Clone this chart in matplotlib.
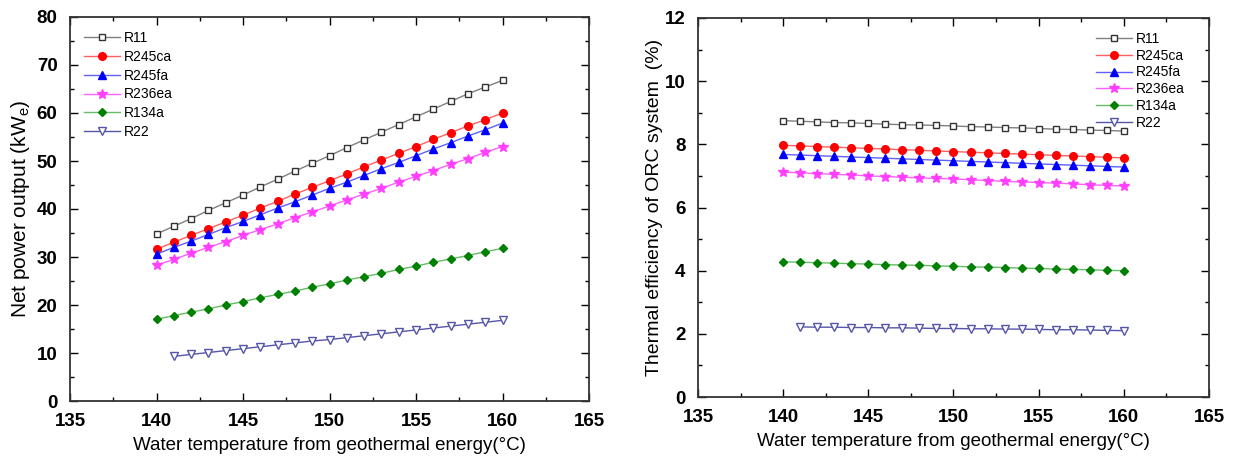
import matplotlib.pyplot as plt
from matplotlib.ticker import MultipleLocator

plt.rcParams['font.family'] = ['Liberation Sans', 'DejaVu Sans']

temps = list(range(140, 161))
temps_r22 = list(range(141, 161))

# net power output (kWe)
power_r11 = [34.8, 36.4, 38.0, 39.7, 41.3, 42.9, 44.6, 46.2, 47.9, 49.5, 51.1,
             52.8, 54.4, 56.0, 57.6, 59.2, 60.8, 62.4, 64.0, 65.4, 66.8]
power_r245ca = [31.6, 33.1, 34.5, 35.9, 37.3, 38.7, 40.2, 41.6, 43.1, 44.5, 45.9,
                47.3, 48.8, 50.2, 51.6, 53.0, 54.5, 55.9, 57.3, 58.6, 60.0]
power_r245fa = [30.6, 32.0, 33.3, 34.7, 36.1, 37.4, 38.8, 40.2, 41.5, 42.9, 44.3,
                45.6, 47.0, 48.4, 49.7, 51.1, 52.5, 53.8, 55.2, 56.5, 57.9]
power_r236ea = [28.3, 29.5, 30.8, 32.0, 33.2, 34.5, 35.7, 36.9, 38.2, 39.4, 40.6,
                41.9, 43.1, 44.3, 45.6, 46.8, 48.0, 49.3, 50.5, 51.8, 53.0]
power_r134a = [17.0, 17.8, 18.5, 19.2, 20.0, 20.7, 21.5, 22.2, 22.9, 23.7, 24.4,
               25.2, 25.9, 26.6, 27.4, 28.1, 28.9, 29.6, 30.3, 31.1, 31.8]
power_r22 = [9.3, 9.7, 10.1, 10.5, 10.9, 11.3, 11.7, 12.1, 12.5, 12.8, 13.2,
             13.6, 14.0, 14.4, 14.8, 15.2, 15.6, 16.0, 16.4, 16.8]

# thermal efficiency (%)
eff_r11 = [8.75, 8.73, 8.71, 8.69, 8.68, 8.66, 8.64, 8.62, 8.61, 8.60, 8.58,
           8.56, 8.55, 8.53, 8.52, 8.50, 8.48, 8.47, 8.45, 8.44, 8.42]
eff_r245ca = [7.97, 7.95, 7.93, 7.91, 7.89, 7.87, 7.85, 7.83, 7.81, 7.79, 7.77,
              7.75, 7.73, 7.71, 7.69, 7.67, 7.65, 7.63, 7.61, 7.59, 7.57]
eff_r245fa = [7.68, 7.66, 7.64, 7.62, 7.60, 7.58, 7.56, 7.54, 7.52, 7.50, 7.48,
              7.46, 7.44, 7.42, 7.40, 7.38, 7.36, 7.34, 7.32, 7.30, 7.28]
eff_r236ea = [7.12, 7.10, 7.07, 7.05, 7.03, 7.00, 6.98, 6.96, 6.94, 6.92, 6.90,
              6.88, 6.85, 6.83, 6.81, 6.79, 6.77, 6.75, 6.72, 6.70, 6.68]
eff_r134a = [4.28, 4.27, 4.25, 4.24, 4.22, 4.21, 4.19, 4.18, 4.17, 4.15, 4.14,
             4.12, 4.11, 4.10, 4.08, 4.07, 4.05, 4.04, 4.03, 4.01, 4.00]
eff_r22 = [2.22, 2.21, 2.21, 2.20, 2.20, 2.19, 2.19, 2.18, 2.17, 2.17, 2.16,
           2.16, 2.15, 2.15, 2.14, 2.13, 2.13, 2.12, 2.11, 2.10]

names = ['R11', 'R245ca', 'R245fa', 'R236ea', 'R134a', 'R22']
styles = [
    dict(color='#808080', marker='s', mfc='white', mec='#333333', ms=5),
    dict(color='#ff6060', marker='o', mfc='red', mec='red', ms=5.5),
    dict(color='#6060ff', marker='^', mfc='blue', mec='blue', ms=6),
    dict(color='#ff60ff', marker='*', mfc='#ff40ff', mec='#ff40ff', ms=7),
    dict(color='#66bb66', marker='D', mfc='#008000', mec='#008000', ms=4.5),
    dict(color='#5555aa', marker='v', mfc='white', mec='#5555aa', ms=6),
]

fig = plt.figure(figsize=(12.34, 4.59), dpi=100)
ax1 = fig.add_axes([70 / 1234, 58 / 459, 519 / 1234, 384 / 459])
ax2 = fig.add_axes([698 / 1234, 62 / 459, 511 / 1234, 379 / 459])

power = [power_r11, power_r245ca, power_r245fa, power_r236ea, power_r134a, power_r22]
eff = [eff_r11, eff_r245ca, eff_r245fa, eff_r236ea, eff_r134a, eff_r22]

for name, st, p, e in zip(names, styles, power, eff):
    x = temps_r22 if name == 'R22' else temps
    ax1.plot(x, p, lw=1, label=name, **st)
    ax2.plot(x, e, lw=1, label=name, **st)

for ax in (ax1, ax2):
    ax.set_xlim(135, 165)
    ax.xaxis.set_major_locator(MultipleLocator(5))
    ax.xaxis.set_minor_locator(MultipleLocator(2.5))
    ax.tick_params(which='both', direction='in', top=True, right=True, width=1)
    ax.tick_params(which='major', length=6, labelsize=13.5, pad=9)
    ax.tick_params(which='minor', length=3)
    for sp in ax.spines.values():
        sp.set_linewidth(1.3)
        sp.set_color('#333333')
    ax.set_xlabel('Water temperature from geothermal energy(°C)', fontsize=13.5, labelpad=5)

ax1.set_ylim(0, 80)
ax1.yaxis.set_major_locator(MultipleLocator(10))
ax1.yaxis.set_minor_locator(MultipleLocator(5))
ax1.set_ylabel('Net power output (kW$_\\mathregular{e}$)', fontsize=15, labelpad=3)
ax1.legend(loc='upper left', frameon=False, fontsize=10, handlelength=2.6,
           handletextpad=0.3, labelspacing=0.35, borderaxespad=0.6)

ax2.set_ylim(0, 12)
ax2.yaxis.set_major_locator(MultipleLocator(2))
ax2.yaxis.set_minor_locator(MultipleLocator(1))
ax2.set_ylabel('Thermal efficiency of ORC system  (%)', fontsize=14, labelpad=1)
ax2.legend(loc='upper right', frameon=False, fontsize=10, handlelength=2.6,
           handletextpad=0.3, labelspacing=0.2, borderaxespad=0.6,
           bbox_to_anchor=(0.98, 1.0))

for ax in (ax1, ax2):
    for lab in ax.get_xticklabels() + ax.get_yticklabels():
        lab.set_fontweight('bold')

fig.savefig('out.png', dpi=100)
